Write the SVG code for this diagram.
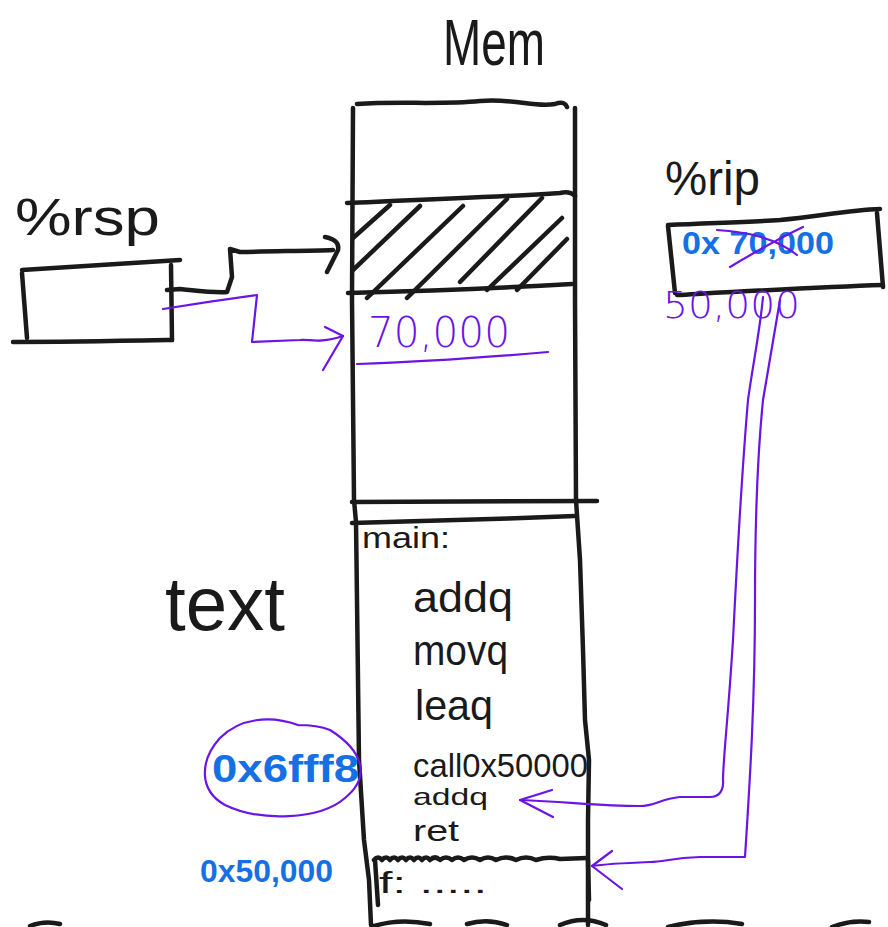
<svg xmlns="http://www.w3.org/2000/svg" width="888" height="927" viewBox="0 0 888 927">
<style>
.k{fill:none;stroke:#1a1a1a;stroke-width:4.5;stroke-linecap:round;stroke-linejoin:round}
.p{fill:none;stroke:#6a14e6;stroke-width:2.2;stroke-linecap:round;stroke-linejoin:round}
.tk{font-family:"Liberation Sans",Arial,sans-serif;fill:#1a1a1a}
.tb{font-family:"Liberation Sans",Arial,sans-serif;fill:#1670e4;font-weight:bold}
.tp{font-family:"DejaVu Sans",sans-serif;fill:#6a14e6;font-weight:200}
</style>
<rect width="888" height="927" fill="#ffffff"/>

<g id="title">
<text class="tk" x="443" y="65" font-size="64" textLength="102" lengthAdjust="spacingAndGlyphs">Mem</text>
</g>

<g id="memory">
<path class="k" d="M357,104 C400,101 440,105 480,101 C515,98 535,108 555,104 C563,101 566,104 567,107"/>
<path class="k" d="M353,108 L352,300 L354,500 L356,522 L357,600 L359,760 L364,840 L369,880 L371,925"/>
<path class="k" d="M575,108 L575,300 L576,500 L580,560 L583,650 L585,720 L589,760 L588,820 L588,925"/>
<path class="k" d="M347,203 C420,200 500,197 560,193 C568,191 572,193 575,196"/>
<path class="k" d="M348,293 C420,291 500,288 572,284"/>
<path class="k" d="M353,238 L390,205 M353,270 L420,206 M367,298 L463,206 M407,298 L507,199 M460,282 L542,198 M487,290 L562,218 M517,290 L567,239"/>
<path class="k" d="M352,502 L597,501"/>
<path class="k" d="M352,523 C420,521 500,519 575,516"/>
<path class="k" d="M374,860 q4,-5 8,0 q4,-5 8,0 q4,-5 8,0 q4,-5 8,0 q4,-5 8,0 q4,-5 8,0 q4,-5 8,0 q5,-5 10,0 q6,-5 12,0 q6,-5 12,0 q8,-5 16,0 q8,-5 16,0 q10,-5 20,0 q10,-5 20,0 q12,-4 24,-1 L587,858"/>
<path class="k" d="M375,860 L378,905 M588,860 L589,900" stroke-width="6"/>
<path class="k" d="M30,926 Q45,920 60,924 M374,926 Q400,918 430,924 M467,924 Q487,918 507,925 M560,925 Q583,915 606,925 M668,927 Q705,918 742,924 M832,927 Q850,920 869,922"/>
</g>

<g id="mem-labels">
<text class="tp" x="368" y="347" font-size="42" textLength="142" lengthAdjust="spacingAndGlyphs">70,000</text>
<path class="p" d="M357,364 C420,362 490,357 548,352"/>
<text class="tk" x="362" y="548" font-size="30" textLength="88" lengthAdjust="spacingAndGlyphs">main:</text>
<text class="tk" x="413" y="612" font-size="42" textLength="100" lengthAdjust="spacingAndGlyphs">addq</text>
<text class="tk" x="413" y="665" font-size="42" textLength="95" lengthAdjust="spacingAndGlyphs">movq</text>
<text class="tk" x="415" y="720" font-size="42" textLength="78" lengthAdjust="spacingAndGlyphs">leaq</text>
<text class="tk" x="413" y="777" font-size="33" textLength="175" lengthAdjust="spacingAndGlyphs">call0x50000</text>
<text class="tk" x="413" y="805" font-size="24" textLength="75" lengthAdjust="spacingAndGlyphs">addq</text>
<text class="tk" x="413" y="841" font-size="29" textLength="46" lengthAdjust="spacingAndGlyphs">ret</text>
<text class="tk" x="379" y="893" font-size="30" textLength="108" lengthAdjust="spacingAndGlyphs">f: .....</text>
<text class="tk" x="165" y="630" font-size="76" textLength="120" lengthAdjust="spacingAndGlyphs">text</text>
</g>

<g id="rsp">
<text class="tk" x="15" y="235" font-size="52" textLength="145" lengthAdjust="spacingAndGlyphs">%rsp</text>
<path class="k" d="M22,270 C70,267 120,264 180,260"/>
<path class="k" d="M22,273 L27,338"/>
<path class="k" d="M13,342 C70,342 120,341 172,340"/>
<path class="k" d="M171,265 L172,340"/>
</g>

<g id="rip">
<text class="tk" x="665" y="195" font-size="48" textLength="95" lengthAdjust="spacingAndGlyphs">%rip</text>
<path class="k" d="M668,225 C710,223 750,222 780,220 C820,216 850,210 880,209"/>
<path class="k" d="M877,213 L883,287"/>
<path class="k" d="M677,295 C750,291 820,287 883,285"/>
<path class="k" d="M668,226 L675,293"/>
<text class="tb" x="682" y="254" font-size="32" textLength="152" lengthAdjust="spacingAndGlyphs">0x 70,000</text>
<path class="p" d="M717,230 C745,232 775,237 797,255 M730,267 C755,252 780,238 803,227"/>
<text class="tp" x="663" y="318" font-size="38" textLength="137" lengthAdjust="spacingAndGlyphs">50,000</text>
</g>

<g id="addresses">
<text class="tb" x="212" y="782" font-size="38" textLength="147" lengthAdjust="spacingAndGlyphs">0x6fff8</text>
<path class="p" d="M298,725 C270,715 240,718 220,738 C200,760 198,790 225,805 C260,822 320,820 345,798 C370,778 365,752 330,730 C320,726 310,725 298,725"/>
<text class="tb" x="200" y="882" font-size="32" textLength="133" lengthAdjust="spacingAndGlyphs">0x50,000</text>
</g>

<g id="connectors">
<path class="k" d="M167,290 L180,289 C200,291 215,293 227,292 L232,277 L230,249 L240,252 C280,251 310,251 333,250"/>
<path class="k" d="M325,237 Q340,240 338,250 L327,272"/>
<path class="p" d="M163,309 C200,303 235,298 257,295 L252,342 L300,340 C310,339 318,344 343,336"/>
<path class="p" d="M325,327 L343,336 L323,370"/>
<path class="p" d="M763,297 C760,330 752,370 748,400 C742,470 737,560 733,640 C728,720 723,760 723,780 C724,792 718,797 710,797 L680,797 C660,799 655,806 640,806 C600,806 570,802 520,800"/>
<path class="p" d="M552,790 L520,800 L553,817"/>
<path class="p" d="M780,300 C775,330 768,370 763,400 C757,460 755,540 755,600 C755,700 750,780 745,857 L700,857 C670,858 665,862 650,862 C625,863 605,864 592,866"/>
<path class="p" d="M612,851 L592,866 L622,889"/>
</g>
</svg>
